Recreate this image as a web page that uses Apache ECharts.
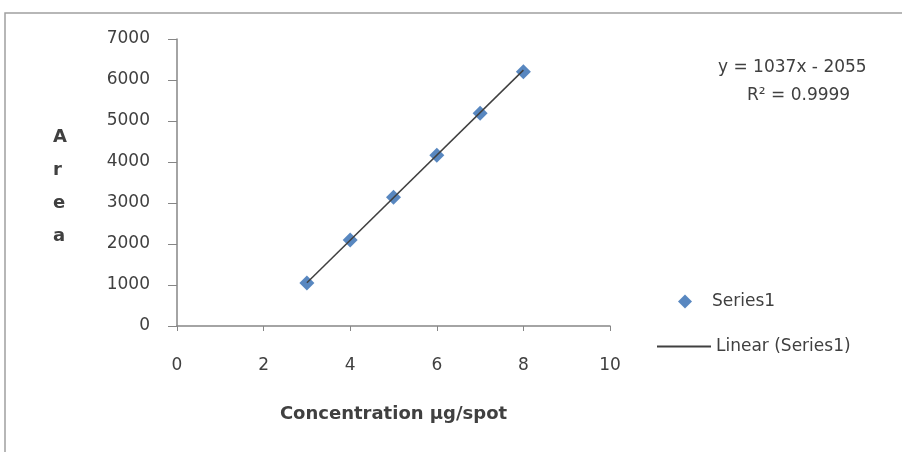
<!DOCTYPE html>
<html><head><meta charset="utf-8">
<script src="https://cdn.jsdelivr.net/npm/echarts@6/dist/echarts.min.js"></script>
<style>html,body{margin:0;padding:0;background:#fff}#c{width:902px;height:452px}</style>
</head><body><div id="c"></div>
<script>
const concentration = [3, 4, 5, 6, 7, 8];
const area = [1050, 2095, 3140, 4165, 5190, 6200];
const trendX = [3, 8];
const trendY = [1056, 6241];
const xTicks = [0, 2, 4, 6, 8, 10];
const yTicks = [0, 1000, 2000, 3000, 4000, 5000, 6000, 7000];
const equationText = 'y = 1037x - 2055';
const r2Text = 'R² = 0.9999';

const chart = echarts.init(document.getElementById('c'));
const axisCol = '#868686';
const textCol = '#404040';
chart.setOption({
  animation: false,
  backgroundColor: '#fff',
  grid: { left: 177, right: 292, top: 39, bottom: 126 },
  xAxis: {
    type: 'value', min: xTicks[0], max: xTicks[xTicks.length-1], interval: 2,
    axisLine: { show: true, lineStyle: { color: axisCol, width: 1.5 } },
    axisTick: { show: true, length: 5, inside: false, lineStyle: { color: axisCol } },
    splitLine: { show: false },
    axisLabel: { color: textCol, fontFamily: 'DejaVu Sans', fontSize: 17, margin: 31 },
    name: 'Concentration \u00b5g/spot', nameLocation: 'middle', nameGap: 79,
    nameTextStyle: { color: textCol, fontFamily: 'DejaVu Sans', fontWeight: 'bold', fontSize: 18 }
  },
  yAxis: {
    type: 'value', min: yTicks[0], max: yTicks[yTicks.length-1], interval: 1000,
    axisLine: { show: true, onZero: false, lineStyle: { color: axisCol, width: 1.5 } },
    axisTick: { show: true, length: 9, lineStyle: { color: axisCol } },
    splitLine: { show: false },
    axisLabel: { color: textCol, fontFamily: 'DejaVu Sans', fontSize: 17, margin: 27,
      formatter: v => String(v) }
  },
  legend: [
    { left: 678, top: 293, padding: 0, itemWidth: 14, itemHeight: 14, itemGap: 0,
      data: [{ name: 'Series1', icon: 'diamond' }],
      textStyle: { color: textCol, fontFamily: 'DejaVu Sans', fontSize: 17, padding: [0,0,0,15] } },
    { left: 657, top: 338, padding: 0, itemWidth: 54, itemHeight: 2, itemGap: 0,
      data: [{ name: 'Linear (Series1)', icon: 'rect' }],
      textStyle: { color: textCol, fontFamily: 'DejaVu Sans', fontSize: 17, padding: [0,0,0,0] } }
  ],
  graphic: [
    { type: 'rect', shape: { x: 5, y: 13, width: 1000, height: 1000 }, style: { fill: 'none', stroke: '#a0a0a0', lineWidth: 1.5 }, silent: true, z: -1 },
    { type: 'text', left: 718, top: 59, style: { text: equationText, fill: textCol, font: '17px "DejaVu Sans"' } },
    { type: 'text', left: 747, top: 87, style: { text: r2Text, fill: textCol, font: '17px "DejaVu Sans"' } },
    { type: 'text', left: 53, top: 121, style: { text: 'A\nr\ne\na', fill: textCol, font: 'bold 18px "DejaVu Sans"', lineHeight: 33, align: 'center' } }
  ],
  series: [
    { name: 'Linear (Series1)', type: 'line', symbol: 'none',
      data: trendX.map((x, i) => [x, trendY[i]]),
      lineStyle: { color: '#404040', width: 1.5 }, itemStyle: { color: '#404040' }, z: 3 },
    { name: 'Series1', type: 'scatter', symbol: 'diamond', symbolSize: 15,
      data: concentration.map((x, i) => [x, area[i]]),
      itemStyle: { color: '#4F81BD', opacity: 0.95 }, z: 2 }
  ]
});
</script></body></html>
